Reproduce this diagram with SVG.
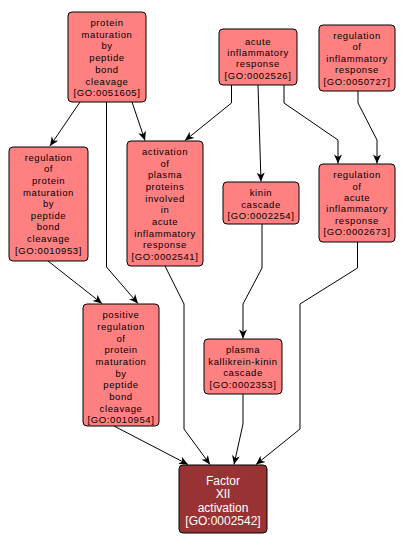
<svg xmlns="http://www.w3.org/2000/svg" width="406" height="546" viewBox="0 0 406 546">
<defs>
<marker id="arr" markerUnits="userSpaceOnUse" markerWidth="12" markerHeight="10" viewBox="-10 -5 12 10" refX="0" refY="0" orient="auto">
<path d="M0,0 L-9,-4 L-6.5,0 L-9,4 Z" fill="#000"/>
</marker>
</defs>
<style>
.n rect{fill:#ff8080;stroke:#000;stroke-width:1}
.n text{font-family:"Liberation Sans",Arial,sans-serif;font-size:9.5px;letter-spacing:0.6px;fill:#000;text-anchor:middle}
.d rect{fill:#993333;stroke:#000;stroke-width:1}
.d text{font-family:"Liberation Sans",Arial,sans-serif;font-size:12px;fill:#fff;text-anchor:middle}
#edges path{fill:none;stroke:#000;stroke-width:1;marker-end:url(#arr)}
</style>
<rect width="406" height="546" fill="#fff"/>
<g id="edges">
<path d="M80,102 L50,146"/>
<path d="M106.5,102 L106.5,267 L138,303.5"/>
<path d="M132,102 L145,140.5"/>
<path d="M231.5,85 L231.5,103 L185,140.5"/>
<path d="M258,85 L261,181.5"/>
<path d="M284,85 L284,103 L338,140 L338,163.5"/>
<path d="M358,91 L358,103 L377,140 L377,163.5"/>
<path d="M48,261 L102,303.5"/>
<path d="M262,224 L262,268 L243,304 L243,338.5"/>
<path d="M165,266 L184,304 L184,429 L210,464.5"/>
<path d="M357.5,242 L357.5,268 L300,304 L300,429 L256,464.5"/>
<path d="M243,394 L243,424 L234,464.5"/>
<path d="M114,426 L188,464.5"/>
</g>
<g id="GO0051605" class="n">
<rect x="68" y="12" width="78" height="90" rx="4"/>
<text x="107" y="26"><tspan x="107">protein</tspan><tspan x="107" dy="11.7">maturation</tspan><tspan x="107" dy="11.7">by</tspan><tspan x="107" dy="11.7">peptide</tspan><tspan x="107" dy="11.7">bond</tspan><tspan x="107" dy="11.7">cleavage</tspan><tspan x="107" dy="11.7">[GO:0051605]</tspan></text>
</g>
<g id="GO0002526" class="n">
<rect x="219" y="29" width="78" height="56" rx="4"/>
<text x="258" y="45"><tspan x="258">acute</tspan><tspan x="258" dy="11.2">inflammatory</tspan><tspan x="258" dy="11.2">response</tspan><tspan x="258" dy="11.2">[GO:0002526]</tspan></text>
</g>
<g id="GO0050727" class="n">
<rect x="319" y="25" width="76" height="66" rx="4"/>
<text x="357" y="38.5"><tspan x="357">regulation</tspan><tspan x="357" dy="11.6">of</tspan><tspan x="357" dy="11.6">inflammatory</tspan><tspan x="357" dy="11.6">response</tspan><tspan x="357" dy="11.6">[GO:0050727]</tspan></text>
</g>
<g id="GO0010953" class="n">
<rect x="9" y="147" width="79" height="114" rx="4"/>
<text x="48.5" y="160.8"><tspan x="48.5">regulation</tspan><tspan x="48.5" dy="11.6">of</tspan><tspan x="48.5" dy="11.6">protein</tspan><tspan x="48.5" dy="11.6">maturation</tspan><tspan x="48.5" dy="11.6">by</tspan><tspan x="48.5" dy="11.6">peptide</tspan><tspan x="48.5" dy="11.6">bond</tspan><tspan x="48.5" dy="11.6">cleavage</tspan><tspan x="48.5" dy="11.6">[GO:0010953]</tspan></text>
</g>
<g id="GO0002541" class="n">
<rect x="127" y="141" width="76" height="125" rx="4"/>
<text x="165" y="155"><tspan x="165">activation</tspan><tspan x="165" dy="11.67">of</tspan><tspan x="165" dy="11.67">plasma</tspan><tspan x="165" dy="11.67">proteins</tspan><tspan x="165" dy="11.67">involved</tspan><tspan x="165" dy="11.67">in</tspan><tspan x="165" dy="11.67">acute</tspan><tspan x="165" dy="11.67">inflammatory</tspan><tspan x="165" dy="11.67">response</tspan><tspan x="165" dy="11.67">[GO:0002541]</tspan></text>
</g>
<g id="GO0002254" class="n">
<rect x="223" y="182" width="76" height="42" rx="4"/>
<text x="261" y="196"><tspan x="261">kinin</tspan><tspan x="261" dy="11.67">cascade</tspan><tspan x="261" dy="11.67">[GO:0002254]</tspan></text>
</g>
<g id="GO0002673" class="n">
<rect x="319" y="164" width="76" height="78" rx="4"/>
<text x="357" y="178.3"><tspan x="357">regulation</tspan><tspan x="357" dy="11.35">of</tspan><tspan x="357" dy="11.35">acute</tspan><tspan x="357" dy="11.35">inflammatory</tspan><tspan x="357" dy="11.35">response</tspan><tspan x="357" dy="11.35">[GO:0002673]</tspan></text>
</g>
<g id="GO0010954" class="n">
<rect x="83" y="304" width="76" height="122" rx="4"/>
<text x="121" y="318.3"><tspan x="121">positive</tspan><tspan x="121" dy="11.67">regulation</tspan><tspan x="121" dy="11.67">of</tspan><tspan x="121" dy="11.67">protein</tspan><tspan x="121" dy="11.67">maturation</tspan><tspan x="121" dy="11.67">by</tspan><tspan x="121" dy="11.67">peptide</tspan><tspan x="121" dy="11.67">bond</tspan><tspan x="121" dy="11.67">cleavage</tspan><tspan x="121" dy="11.67">[GO:0010954]</tspan></text>
</g>
<g id="GO0002353" class="n">
<rect x="204" y="339" width="78" height="55" rx="4"/>
<text x="243" y="353.3"><tspan x="243">plasma</tspan><tspan x="243" dy="11.4">kallikrein-kinin</tspan><tspan x="243" dy="11.4">cascade</tspan><tspan x="243" dy="11.4">[GO:0002353]</tspan></text>
</g>
<g id="GO0002542" class="d">
<rect x="179" y="465" width="88" height="68" rx="4"/>
<text x="223" y="485"><tspan x="223">Factor</tspan><tspan x="223" dy="13.4">XII</tspan><tspan x="223" dy="13.4">activation</tspan><tspan x="223" dy="13.4">[GO:0002542]</tspan></text>
</g>
</svg>
